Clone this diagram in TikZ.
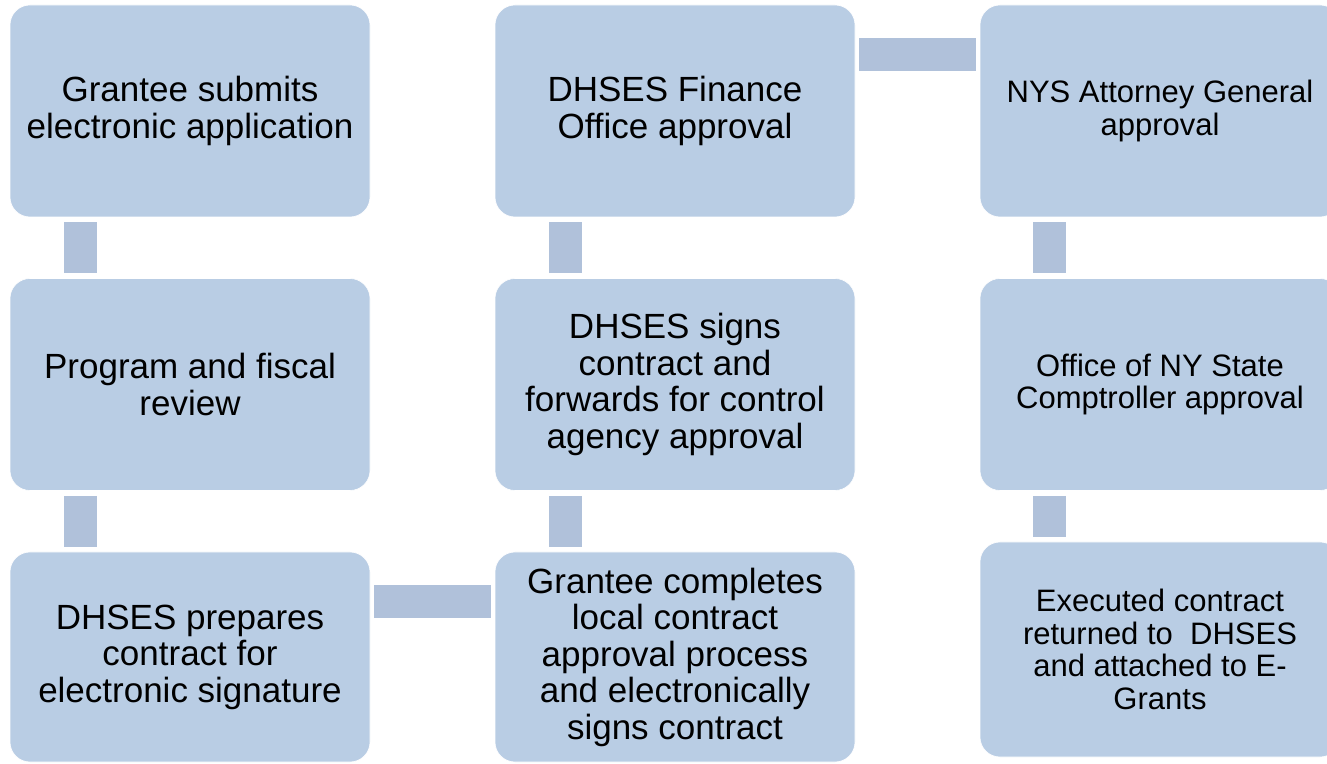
\documentclass[tikz,border=0pt]{standalone}
\usepackage{fontspec}
\setmainfont{Liberation Sans}
\usetikzlibrary{positioning, calc}
\definecolor{boxfill}{HTML}{B9CDE4}
\definecolor{linkfill}{HTML}{B0C1DA}
\tikzset{
  box/.style={rounded corners=20pt, fill=boxfill, draw=white, line width=0.6pt,
    minimum width=360pt, minimum height=212pt, align=center, inner sep=2pt,
    font=\fontsize{35}{36.5}\selectfont},
  smallbox/.style={box, font=\fontsize{31}{32.5}\selectfont},
  link/.style={draw=linkfill, line width=33pt}
}
\begin{document}
\begin{tikzpicture}[x=1pt, y=1pt]
  \useasboundingbox (0,0) rectangle (1327,763);
  % first column
  \node[box] (submit) at (190,652) {Grantee submits\\electronic application};
  \node[box] (review) at (190,378.5) {Program and fiscal\\review};
  \node[box, minimum height=210pt] (prep) at (190,106) {DHSES prepares\\contract for\\electronic signature};

  % second column
  \node[box] (finance) at (675,652) {DHSES Finance\\Office approval};
  \node[box] (signs) at (675,378.5) {DHSES signs\\contract and\\forwards for control\\agency approval};
  \node[box, minimum height=210pt] (local) at (675,106) {Grantee completes\\local contract\\approval process\\and electronically\\signs contract};

  % third column
  \node[smallbox] (ag) at (1160,652) {NYS Attorney General\\approval};
  \node[smallbox] (osc) at (1160,378.5) {Office of NY State\\Comptroller approval};
  \node[smallbox, minimum height=215pt] (done) at (1160,113.5) {Executed contract\\returned to\ \ DHSES\\and attached to E-\\Grants};

  % connectors
  \draw[link] ([xshift=70.5pt,yshift=-5pt]submit.south west) -- ([xshift=70.5pt,yshift=5pt]review.north west);
  \draw[link] ([xshift=70.5pt,yshift=-5pt]review.south west) -- ([xshift=70.5pt,yshift=5pt]prep.north west);
  \draw[link] ([xshift=4pt,yshift=-50pt]prep.north east) -- ([xshift=-4pt,yshift=-50pt]local.north west);
  \draw[link] ([xshift=70.5pt,yshift=5pt]local.north west) -- ([xshift=70.5pt,yshift=-5pt]signs.south west);
  \draw[link] ([xshift=70.5pt,yshift=5pt]signs.north west) -- ([xshift=70.5pt,yshift=-5pt]finance.south west);
  \draw[link] ([xshift=4pt,yshift=-49.5pt]finance.north east) -- ([xshift=-4pt,yshift=-49.5pt]ag.north west);
  \draw[link] ([xshift=70pt,yshift=-5pt]ag.south west) -- ([xshift=70pt,yshift=5pt]osc.north west);
  \draw[link] ([xshift=70pt,yshift=-5pt]osc.south west) -- ([xshift=70pt,yshift=5pt]done.north west);
\end{tikzpicture}
\end{document}
